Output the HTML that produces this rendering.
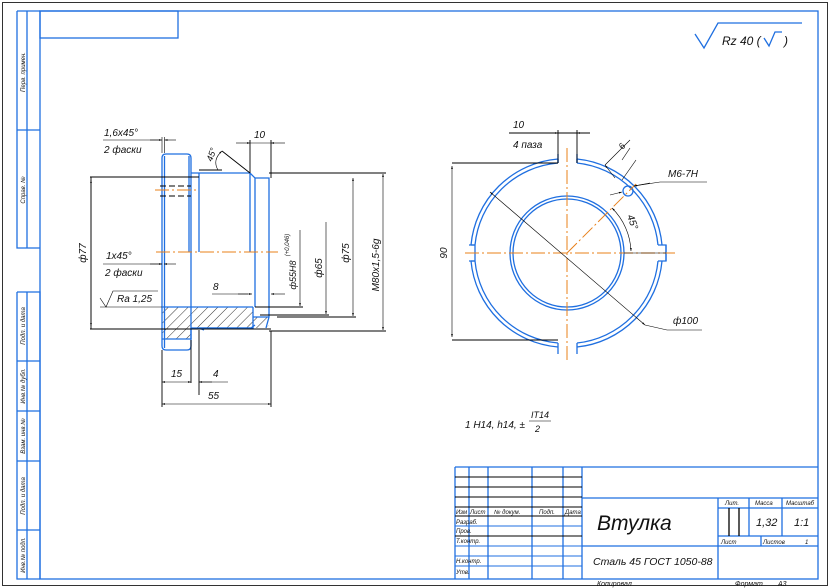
<!DOCTYPE html>
<html><head><meta charset="utf-8"><style>
html,body{margin:0;padding:0;background:#fff}
svg{display:block}
text{font-family:"Liberation Sans",sans-serif;font-style:italic;fill:#111}
.b{stroke:#1f6fe0;fill:none;stroke-width:1.3}
.k{stroke:#000;fill:none;stroke-width:0.9}
.o{stroke:#e8801a;fill:none;stroke-width:1;stroke-dasharray:14 3 2 3}
.t{stroke:#000;fill:none;stroke-width:0.6}
</style></head><body>
<svg width="830" height="588" viewBox="0 0 830 588" xmlns="http://www.w3.org/2000/svg">
<defs>
<marker id="a" viewBox="0 0 10 6" refX="10" refY="3" markerWidth="8" markerHeight="3" orient="auto-start-reverse"><path d="M0,0L10,3L0,6z" fill="#000"/></marker>
<pattern id="h" width="7" height="7" patternUnits="userSpaceOnUse" patternTransform="rotate(45)"><line x1="0" y1="0" x2="0" y2="7" stroke="#000" stroke-width="0.8"/></pattern>
</defs>
<rect x="2.5" y="2.5" width="825" height="583" fill="none" stroke="#000" stroke-width="0.8"/>
<!-- frame -->
<rect x="40" y="11" width="778" height="568" class="b"/>
<rect x="40" y="11" width="138" height="27" class="b"/>
<path class="b" d="M17,11H40M17,11V248H40M27,11V248M17,130H40M17,292H40V579M17,292V579H40M27,292V579M17,361H40M17,411H40M17,461H40M17,530H40"/>
<g font-size="6">
<text transform="translate(25,72) rotate(-90)" text-anchor="middle">Перв. примен.</text>
<text transform="translate(25,190) rotate(-90)" text-anchor="middle">Справ. №</text>
<text transform="translate(25,326) rotate(-90)" text-anchor="middle">Подп. и дата</text>
<text transform="translate(25,386) rotate(-90)" text-anchor="middle">Инв.№ дубл.</text>
<text transform="translate(25,436) rotate(-90)" text-anchor="middle">Взам. инв.№</text>
<text transform="translate(25,496) rotate(-90)" text-anchor="middle">Подп. и дата</text>
<text transform="translate(25,555) rotate(-90)" text-anchor="middle">Инв.№ подл.</text>
</g>
<!-- roughness -->
<path class="b" d="M695,34L704,48L718,23H802"/>
<text x="722" y="45" font-size="12">Rz 40 (</text><path class="b" d="M764,38L769,46L775,32H782" stroke-width="1"/><text x="784" y="45" font-size="12">)</text>

<!-- LEFT VIEW -->
<rect x="162" y="307" width="91" height="21" fill="url(#h)"/>
<path d="M253,317H269V325L266,328H253z" fill="url(#h)"/>
<rect x="162" y="328" width="29" height="11" fill="url(#h)"/>
<path class="b" d="M162,339H191"/>
<path class="b" d="M162,158Q162,154 166,154H187Q191,154 191,158V346Q191,350 187,350H166Q162,350 162,346Z"/>
<path class="b" d="M164.5,156V348M189,156V252"/>
<path class="b" d="M191,173H199M199,173V252M199,173H250L255,178H269V317L266,328M250,173V252M255,178V307M191,328H253V307M253,317H269M199,328L204,330M162,307H253M191,328V339"/>
<path class="b" d="M199,328H251L255,325"/>
<path class="k" d="M160,186H191M160,196H191" stroke-dasharray="6 3" stroke-width="2"/>
<path class="o" d="M155,190H196"/>
<path class="o" d="M156,252H278"/>
<!-- dims left -->
<path class="k" d="M90,177H199M90,329H271M91,177V329" />
<path class="t" d="M91,180V326" marker-start="url(#a)" marker-end="url(#a)"/>
<text transform="translate(86,253) rotate(-90)" font-size="10" text-anchor="middle">ф77</text>
<path class="k" d="M269,173H386M269,331H386M277,317H356M255,307H303M260,315H329"/>
<path class="t" d="M383,174V330" marker-start="url(#a)" marker-end="url(#a)"/>
<path class="t" d="M353,178V316" marker-start="url(#a)" marker-end="url(#a)"/>
<path class="t" d="M326,222V314" marker-end="url(#a)"/>
<path class="t" d="M300,230V306" marker-end="url(#a)"/>
<text transform="translate(379,265) rotate(-90)" font-size="10" text-anchor="middle">M80x1,5-6g</text>
<text transform="translate(349,253) rotate(-90)" font-size="10" text-anchor="middle">ф75</text>
<text transform="translate(322,268) rotate(-90)" font-size="10" text-anchor="middle">ф65</text>
<text transform="translate(296,275) rotate(-90)" font-size="9" text-anchor="middle">ф55H8</text>
<text transform="translate(289,245) rotate(-90)" font-size="6" text-anchor="middle">(+0,046)</text>
<path class="t" d="M212,294H248" /><path class="t" d="M238,294H252" marker-end="url(#a)"/><path class="t" d="M285,294H271" marker-end="url(#a)"/>
<text x="213" y="290" font-size="10">8</text>
<!-- 10 top -->
<path class="k" d="M250,140V173M271,140V178"/>
<path class="t" d="M236,143H250" marker-end="url(#a)"/><path class="t" d="M285,143H271" marker-end="url(#a)"/><path class="t" d="M250,143H271"/>
<text x="254" y="138" font-size="10">10</text>
<!-- 45 angle -->
<path class="k" d="M222,151L250,173M199,170H222"/>
<path class="t" d="M218,170Q212,160 222,151" marker-end="url(#a)"/>
<text transform="translate(212,162) rotate(-70)" font-size="9">45°</text>
<!-- chamfers -->
<path class="t" d="M103,140H160M162,137V153M164.5,137V153"/><path class="t" d="M150,140H162" marker-end="url(#a)"/><path class="t" d="M176,140H164.5" marker-end="url(#a)"/>
<text x="104" y="136" font-size="10">1,6x45°</text><text x="104" y="153" font-size="10">2 фаски</text>
<path class="t" d="M103,264H162"/><path class="t" d="M150,264H162" marker-end="url(#a)"/><path class="t" d="M176,264H164" marker-end="url(#a)"/>
<text x="106" y="259" font-size="10">1x45°</text><text x="105" y="276" font-size="10">2 фаски</text>
<path class="t" d="M100,307H162M100,298L106,307L113,291H158"/>
<text x="117" y="302" font-size="10">Ra 1,25</text>
<!-- bottom dims -->
<path class="k" d="M162,350V407M271,331V407M191,340V383M199,330V395"/>
<path class="t" d="M162,382H191" marker-start="url(#a)" marker-end="url(#a)"/>
<path class="t" d="M212,382H199" marker-end="url(#a)"/><path class="t" d="M199,382H228"/>
<text x="171" y="377" font-size="10">15</text><text x="213" y="377" font-size="10">4</text>
<path class="t" d="M162,404H271" marker-start="url(#a)" marker-end="url(#a)"/>
<text x="208" y="399" font-size="10">55</text>

<!-- RIGHT VIEW -->
<g class="b">
<path d="M558,163A91,91 0 0 0 475,245M475,261A91,91 0 0 0 558,343M577,343A91,91 0 0 0 658,261M658,245A91,91 0 0 0 577,163"/>
<path d="M558,159A95,95 0 0 0 471,245M471,261A95,95 0 0 0 558,347M577,347A95,95 0 0 0 662,261M662,245A95,95 0 0 0 577,159"/>
<path d="M558,159V163M577,159V163M558,343V354M577,343V354M471,245H475M471,261H475M658,245H666V261H658M475,245V261"/>
<path d="M558,154V163M577,154V163M469,245H475M469,261H475M666,245V261"/>
<circle cx="567" cy="253" r="57"/><circle cx="567" cy="253" r="54"/>
<circle cx="628" cy="191" r="5"/>
</g>
<path class="o" d="M465,253H675M567,148V360M567,253L636,184"/>
<path class="k" d="M452,163H558M452,340H558M558,130V163M577,130V163M509,133H590"/>
<path class="t" d="M452,166V337" marker-start="url(#a)" marker-end="url(#a)"/>
<text transform="translate(447,253) rotate(-90)" font-size="10" text-anchor="middle">90</text>
<path class="t" d="M545,133H558" marker-end="url(#a)"/><path class="t" d="M590,133H577" marker-end="url(#a)"/>
<text x="513" y="128" font-size="10">10</text><text x="513" y="148" font-size="10">4 паза</text>
<path class="t" d="M490,192L645,325" marker-start="url(#a)" marker-end="url(#a)"/><path class="t" d="M645,325L667,330H702"/>
<text x="673" y="324" font-size="10">ф100</text>
<path class="t" d="M634,186L660,182H707"/><path class="t" d="M650,183L634,186" marker-end="url(#a)"/><path class="t" d="M610,195L622,192" marker-end="url(#a)"/>
<text x="668" y="177" font-size="10">M6-7H</text>
<path class="t" d="M605,165L630,140M622,180L636,160"/>
<path class="t" d="M605,165L615,178" marker-start="url(#a)"/><path class="t" d="M630,148L622,160" />
<text transform="translate(623,150) rotate(-55)" font-size="9">6</text>
<path class="t" d="M612,208A64,64 0 0 1 631,251" marker-start="url(#a)" marker-end="url(#a)"/>
<path class="t" d="M624,253H666"/>
<text transform="translate(627,216) rotate(70)" font-size="10">45°</text>

<!-- tolerance note -->
<text x="465" y="428" font-size="10">1 H14, h14, ±</text>
<text x="531" y="418" font-size="9">IT14</text><path class="t" d="M529,421H551"/><text x="535" y="432" font-size="9">2</text>

<!-- TITLE BLOCK -->
<g class="b" stroke-width="1.1">
<path d="M455,467H818M455,467V579M469,467V579M488,467V579M532,467V579M563,467V579M582,467V579"/>
<path d="M582,498H818M582,546H818M718,498V579M749,498V536M782,498V536M718,508H818M718,536H818M761,536V546"/>
</g>
<path class="k" d="M455,477H582M455,487H582M455,497H582M455,507H582" stroke-width="1.1"/>
<path d="M455,516H582M455,526H582M455,536H582M455,546H582M455,556H582M455,566H582" stroke="#1f6fe0" stroke-width="1"/>
<path d="M455,516H582M455,536H582" stroke="#000" stroke-width="1"/>
<path d="M729,508V536M739,508V536" stroke="#000" stroke-width="1.3"/>
<g font-size="6">
<text x="456" y="514">Изм</text><text x="470" y="514">Лист</text><text x="494" y="514">№ докум.</text><text x="539" y="514">Подп.</text><text x="565" y="514">Дата</text>
<text x="456" y="524">Разраб.</text><text x="456" y="533">Пров.</text><text x="456" y="543">Т.контр.</text><text x="456" y="563">Н.контр.</text><text x="456" y="574">Утв.</text>
<text x="725" y="505">Лит.</text><text x="755" y="505">Масса</text><text x="786" y="505">Масштаб</text>
<text x="721" y="544">Лист</text><text x="763" y="544">Листов</text><text x="805" y="544">1</text>
</g>
<text x="597" y="530" font-size="21">Втулка</text>
<text x="593" y="565" font-size="10.5">Сталь 45 ГОСТ 1050-88</text>
<text x="756" y="526" font-size="11">1,32</text><text x="794" y="526" font-size="11">1:1</text>
<text x="597" y="586" font-size="7">Копировал</text><text x="735" y="586" font-size="7">Формат</text><text x="778" y="586" font-size="7">А3</text>
</svg>
</body></html>
